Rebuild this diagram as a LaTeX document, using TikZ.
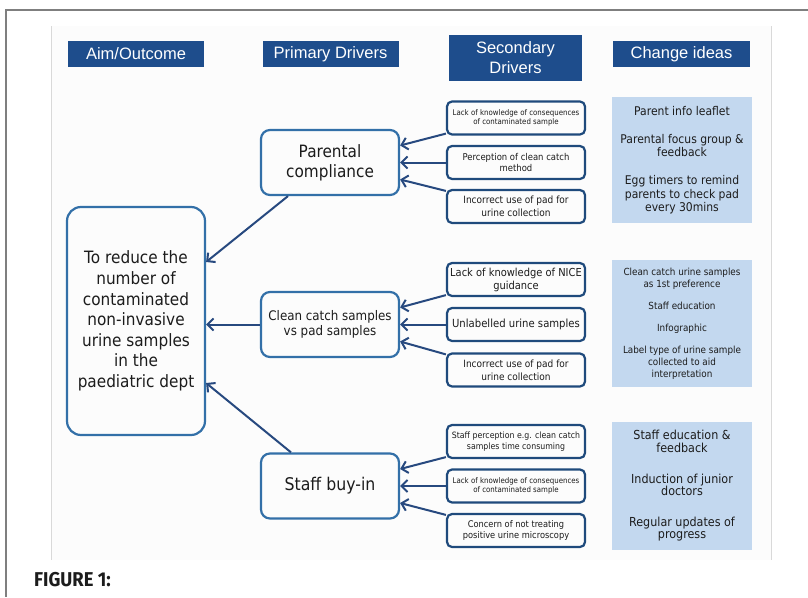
\documentclass[tikz,border=0pt]{standalone}
\usepackage{fontspec}
\setmainfont{DejaVu Sans}[FakeStretch=0.9]
\newfontfamily\hdrfont{Liberation Sans}
\newfontfamily\capfont{Fira Sans}[FakeStretch=0.92]
\usetikzlibrary{arrows.meta, positioning}
\definecolor{dhead}{HTML}{1E4D8C}
\definecolor{dedge}{HTML}{3370A8}
\definecolor{dnavy}{HTML}{1F4A7C}
\definecolor{darrow}{HTML}{27497F}
\definecolor{didea}{HTML}{C3D8EF}
\definecolor{dtext}{HTML}{1C1C1C}
\definecolor{dframe}{HTML}{7F7F7F}
\tikzset{
  hbox/.style={fill=dhead, text=white, minimum width=136pt, minimum height=26pt,
               inner sep=2pt, align=center, font=\hdrfont\fontsize{16.5}{20}\selectfont},
  aimbox/.style={draw=dedge, line width=2.2pt, rounded corners=14pt, minimum width=138pt,
                 minimum height=228pt, align=center, text=dtext,
                 font=\fontsize{17}{20.6}\selectfont},
  pdbox/.style={draw=dedge, line width=2.2pt, rounded corners=9pt, minimum width=138pt,
                minimum height=65pt, align=center, text=dtext},
  sdbox/.style={draw=dnavy, line width=2.2pt, rounded corners=5pt, minimum width=138pt,
                minimum height=33pt, inner sep=1pt, align=center, text=dtext},
  ideabox/.style={fill=didea, minimum width=140pt, inner sep=2pt, align=center, text=dtext},
  arr/.style={-{Straight Barb[length=6pt, width=12pt]}, line width=2pt, darrow},
}
\begin{document}
\begin{tikzpicture}[x=1pt, y=-1pt]
  \useasboundingbox (0,0) rectangle (808,597);
  % page frame and slide
  \draw[dframe, line width=1.4pt] (808,10) -- (6,10) -- (6,597);
  \fill[gray!2] (51,26) rectangle (771,560);
  \draw[gray!30, line width=1pt] (51,26) -- (51,560) (771,26) -- (771,560);
  % column headers
  \node[hbox] (hd1) at (136,54) {Aim/Outcome};
  \node[hbox] (hd2) at (330.5,54) {Primary Drivers};
  \node[hbox, minimum width=133pt, minimum height=46pt] (hd3) at (515.5,58) {Secondary\\Drivers};
  \node[hbox, minimum width=137pt] (hd4) at (681.5,54) {Change ideas};
  % aim
  \node[aimbox] (aim) at (136,321)
    {To reduce the\\number of\\contaminated\\non-invasive\\urine samples\\in the\\paediatric dept};
  % primary drivers
  \node[pdbox, font=\fontsize{17}{20.3}\selectfont] (p1) at (330,162.5) {Parental\\compliance};
  \node[pdbox, font=\fontsize{13.2}{15}\selectfont] (p2) at (330,324.5) {Clean catch samples\\vs pad samples};
  \node[pdbox, font=\fontsize{17.5}{20}\selectfont] (p3) at (330,486) {Staff buy-in};
  % secondary drivers
  \node[sdbox, font=\fontsize{7.8}{8.8}\selectfont] (s11) at (516,118)
    {Lack of knowledge of consequences\\of contaminated sample};
  \node[sdbox, font=\fontsize{9.4}{11.5}\selectfont] (s12) at (516,162.5)
    {Perception of clean catch\\method};
  \node[sdbox, font=\fontsize{10}{13}\selectfont] (s13) at (516,206.5)
    {Incorrect use of pad for\\urine collection};
  \node[sdbox, font=\fontsize{11}{13}\selectfont] (s21) at (516,279.5)
    {Lack of knowledge of NICE\\guidance};
  \node[sdbox, font=\fontsize{11.2}{13}\selectfont] (s22) at (516,324.5)
    {Unlabelled urine samples};
  \node[sdbox, font=\fontsize{10}{13}\selectfont] (s23) at (516,370)
    {Incorrect use of pad for\\urine collection};
  \node[sdbox, font=\fontsize{8.7}{10.7}\selectfont] (s31) at (516,441.5)
    {Staff perception e.g. clean catch\\samples time consuming};
  \node[sdbox, font=\fontsize{7.8}{8.8}\selectfont] (s32) at (516,486)
    {Lack of knowledge of consequences\\of contaminated sample};
  \node[sdbox, font=\fontsize{9.2}{11}\selectfont] (s33) at (516,530.5)
    {Concern of not treating\\positive urine microscopy};
  % change ideas
  \node[ideabox, minimum height=126pt, font=\fontsize{12}{13.5}\selectfont] (c1) at (682,160)
    {Parent info leaflet\\[14.5pt]Parental focus group \&\\feedback\\[14.5pt]Egg timers to remind\\parents to check pad\\every 30mins};
  \node[ideabox, minimum height=127pt, font=\fontsize{9.8}{12}\selectfont] (c2) at (682,323.5)
    {Clean catch urine samples\\as 1st preference\\[10pt]Staff education\\[10pt]Infographic\\[10pt]Label type of urine sample\\collected to aid\\interpretation};
  \node[ideabox, minimum height=128pt, font=\fontsize{12.4}{12.8}\selectfont] (c3) at (682,486)
    {Staff education \&\\feedback\\[17.5pt]Induction of junior\\doctors\\[17.5pt]Regular updates of\\progress};
  % secondary -> primary
  \draw[arr] ([yshift=2pt]s11.south west) -- ([yshift=17pt]p1.east);
  \draw[arr] (s12.west) -- (p1.east);
  \draw[arr] ([yshift=-2pt]s13.north west) -- ([yshift=-17pt]p1.east);
  \draw[arr] ([yshift=2pt]s21.south west) -- ([yshift=17pt]p2.east);
  \draw[arr] (s22.west) -- (p2.east);
  \draw[arr] ([yshift=-2pt]s23.north west) -- ([yshift=-17pt]p2.east);
  \draw[arr] ([yshift=2pt]s31.south west) -- ([yshift=17pt]p3.east);
  \draw[arr] (s32.west) -- (p3.east);
  \draw[arr] ([yshift=-2pt]s33.north west) -- ([yshift=-17pt]p3.east);
  % primary -> aim
  \draw[arr] ([xshift=-42pt]p1.south) -- ([yshift=59pt]aim.east);
  \draw[arr] (p2.west) -- (aim.east |- p2.west);
  \draw[arr] ([xshift=-39pt]p3.north) -- ([yshift=-62pt]aim.east);
  % caption
  \node[anchor=base west, inner sep=0pt, text=dtext,
        font=\capfont\bfseries\fontsize{20}{24}\selectfont] (fig) at (34,586) {FIGURE 1:};
\end{tikzpicture}
\end{document}
